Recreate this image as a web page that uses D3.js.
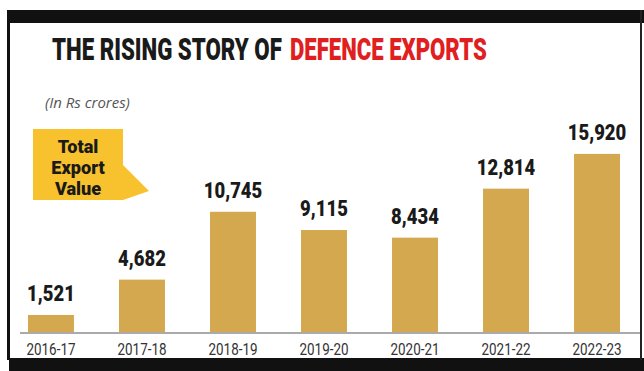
<!DOCTYPE html>
<html>
<head>
<meta charset="utf-8">
<script src="https://cdn.jsdelivr.net/npm/d3@7"></script>
<style>
  html, body { margin: 0; padding: 0; background: #fff; }
  svg { display: block; }
</style>
</head>
<body>
<svg id="chart" width="644" height="371"></svg>
<script>
// Data
var years = ["2016-17", "2017-18", "2018-19", "2019-20", "2020-21", "2021-22", "2022-23"];
var exports = [1521, 4682, 10745, 9115, 8434, 12814, 15920];
var calloutLines = ["Total", "Export", "Value"];

// Dimensions
var width = 644;
var height = 371;
var baseY = 332;

var svg = d3.select("#chart");

// condensed look: place text at (px, py) and squash it horizontally
function squash(sel, px, py, k) {
  sel.attr("x", 0).attr("y", 0)
    .attr("transform", function(d, i) {
      var a = typeof px === "function" ? px(d, i) : px;
      var b = typeof py === "function" ? py(d, i) : py;
      return "translate(" + a + "," + b + ") scale(" + k + ",1)";
    });
}

// frame
svg.append("rect").attr("x", 7).attr("y", 10).attr("width", 637).attr("height", 13).attr("fill", "#111");
svg.append("rect").attr("x", 7).attr("y", 10).attr("width", 3).attr("height", 350).attr("fill", "#111");
svg.append("rect").attr("x", 9).attr("y", 358).attr("width", 635).attr("height", 13).attr("fill", "#111");
svg.append("rect").attr("x", 640).attr("y", 10).attr("width", 2).attr("height", 350).attr("fill", "#222");

// title
var title = svg.append("g").attr("font-family", "Roboto, 'DejaVu Sans', sans-serif")
  .attr("font-weight", 900).attr("font-size", 31);
var t1 = title.append("text").attr("fill", "#1a1a1a").text("THE RISING STORY OF");
var t2 = title.append("text").attr("fill", "#e0201f").text("DEFENCE EXPORTS");
squash(t1, 52, 60, 230 / t1.node().getComputedTextLength());
squash(t2, 290, 60, 197 / t2.node().getComputedTextLength());

// unit note
var note = svg.append("text")
  .attr("font-family", "'Open Sans', sans-serif")
  .attr("font-style", "italic")
  .attr("font-size", 15).attr("fill", "#555")
  .text("(In Rs crores)");
squash(note, 45, 108, 85 / note.node().getComputedTextLength());

// Scales
var x = d3.scaleBand()
  .domain(years)
  .range([28, 620])
  .paddingInner(0.495)
  .paddingOuter(0);

var y = d3.scaleLinear()
  .domain([0, 16000])
  .range([baseY, baseY - 179]);

// bars
svg.append("g").selectAll("rect")
  .data(exports)
  .enter()
  .append("rect")
  .attr("x", function(d, i) { return x(years[i]); })
  .attr("y", function(d) { return y(d); })
  .attr("width", x.bandwidth())
  .attr("height", function(d) { return baseY - y(d); })
  .attr("fill", "#d4a84f");

// value labels
svg.append("g").selectAll("text")
  .data(exports)
  .enter()
  .append("text")
  .attr("text-anchor", "middle")
  .attr("font-family", "Roboto, sans-serif")
  .attr("font-weight", 900)
  .attr("font-size", 22)
  .attr("fill", "#1a1a1a")
  .text(function(d) { return d3.format(",")(d); })
  .call(squash, function(d, i) { return x(years[i]) + x.bandwidth() / 2; },
        function(d) { return y(d) - 14; }, 0.84);

// baseline
svg.append("line")
  .attr("x1", 20).attr("x2", 640)
  .attr("y1", baseY + 1).attr("y2", baseY + 1)
  .attr("stroke", "#aaa").attr("stroke-width", 2);

// x axis
var xAxis = svg.append("g")
  .attr("transform", "translate(0," + (baseY + 2) + ")")
  .call(d3.axisBottom(x).tickSize(0).tickPadding(0));
xAxis.select(".domain").remove();
xAxis.selectAll("text")
  .attr("dy", null)
  .attr("y", 0)
  .attr("transform", "translate(0,21) scale(0.84,1)")
  .attr("font-family", "Roboto, sans-serif")
  .attr("font-size", 16)
  .attr("fill", "#333");

// callout
var callout = svg.append("g");
callout.append("path")
  .attr("d", "M33,129 L123,129 L123,165 L149,191 L123,200 L33,200 Z")
  .attr("fill", "#f8c22f");
callout.selectAll("text")
  .data(calloutLines)
  .enter()
  .append("text")
  .attr("text-anchor", "middle")
  .attr("font-family", "Roboto, sans-serif")
  .attr("font-weight", 900)
  .attr("font-size", 18.5)
  .attr("fill", "#1a1a1a")
  .text(function(d) { return d; })
  .call(squash, 78, function(d, i) { return 153 + i * 21; }, 0.98);
</script>
</body>
</html>
